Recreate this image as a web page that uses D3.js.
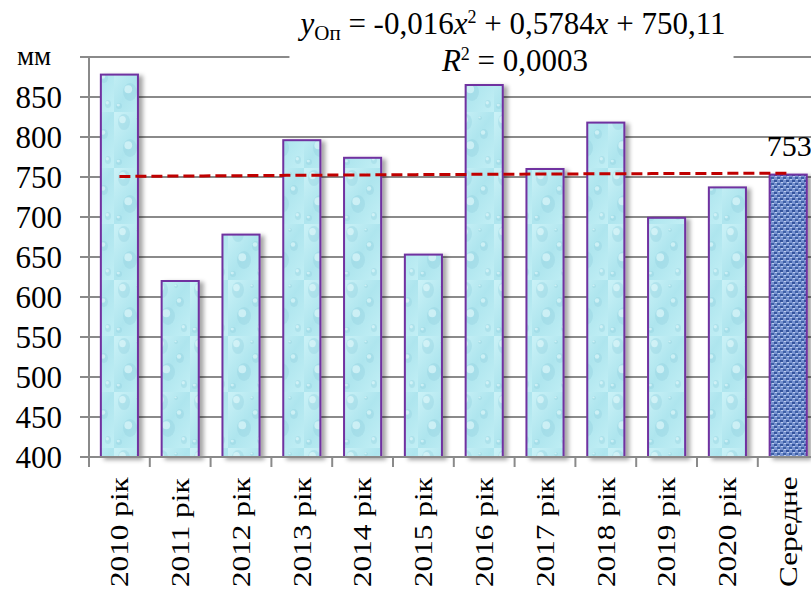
<!DOCTYPE html>
<html>
<head>
<meta charset="utf-8">
<script src="https://cdn.jsdelivr.net/npm/d3@7"></script>
<style>
  html, body { margin: 0; padding: 0; background: #fff; }
</style>
</head>
<body>
<script>
// Annual precipitation, mm, 2010–2020 and the mean over the period
const categories = ["2010 рік", "2011 рік", "2012 рік", "2013 рік", "2014 рік", "2015 рік",
                    "2016 рік", "2017 рік", "2018 рік", "2019 рік", "2020 рік", "Середне"];
const precipitation = [878, 620, 678, 796, 774, 653, 865, 760, 818, 699, 737, 753];
const yTicks = [400, 450, 500, 550, 600, 650, 700, 750, 800, 850, 900];
const yUnit = "мм";
// polynomial trend y = a·x² + b·x + c
const trendCoef = [-0.016, 0.5784, 750.11];
const trendR2 = "0,0003";

const FONT = "Liberation Serif";
const W = 811, H = 592;
const svg = d3.select("body").append("svg").attr("width", W).attr("height", H)
  .attr("font-family", FONT);
const defs = svg.append("defs");

// --- fills -------------------------------------------------------------
const waterGrad = defs.append("linearGradient").attr("id", "waterBase")
  .attr("x1", 0).attr("y1", 0).attr("x2", 1).attr("y2", 1);
waterGrad.append("stop").attr("offset", 0).attr("stop-color", "#cbf2f7");
waterGrad.append("stop").attr("offset", 0.5).attr("stop-color", "#aee5ee");
waterGrad.append("stop").attr("offset", 1).attr("stop-color", "#c2eff5");

const water = defs.append("pattern").attr("id", "water")
  .attr("patternUnits", "userSpaceOnUse").attr("width", 38).attr("height", 56);
water.append("rect").attr("width", 38).attr("height", 56).attr("fill", "url(#waterBase)");
const drops = [
  [10, 10, 6, 8], [28, 22, 4, 5], [16, 36, 7, 9], [32, 48, 3, 4], [5, 50, 3, 3], [24, 6, 2, 2]
];
drops.forEach(([cx, cy, rx, ry]) => {
  water.append("ellipse").attr("cx", cx).attr("cy", cy).attr("rx", rx).attr("ry", ry)
    .attr("fill", "#8fcfdc").attr("opacity", 0.35);
  water.append("ellipse").attr("cx", cx - rx * 0.25).attr("cy", cy - ry * 0.3)
    .attr("rx", rx * 0.55).attr("ry", ry * 0.45).attr("fill", "#e6fbfd").attr("opacity", 0.6);
});

const denim = defs.append("pattern").attr("id", "denim")
  .attr("patternUnits", "userSpaceOnUse").attr("width", 6).attr("height", 6);
denim.append("rect").attr("width", 6).attr("height", 6).attr("fill", "#7792d0");
denim.append("rect").attr("x", 0).attr("y", 0).attr("width", 3).attr("height", 2).attr("fill", "#34549e");
denim.append("rect").attr("x", 3).attr("y", 3).attr("width", 3).attr("height", 2).attr("fill", "#3d5ea6");
denim.append("rect").attr("x", 1).attr("y", 2).attr("width", 2).attr("height", 1).attr("fill", "#bccdee");
denim.append("rect").attr("x", 4).attr("y", 5).attr("width", 2).attr("height", 1).attr("fill", "#bccdee");

const shadow = defs.append("filter").attr("id", "shadow")
  .attr("x", "-20%").attr("y", "-5%").attr("width", "150%").attr("height", "115%");
shadow.append("feDropShadow").attr("dx", 4).attr("dy", 2).attr("stdDeviation", 2)
  .attr("flood-color", "#000").attr("flood-opacity", 0.35);

// --- scales ------------------------------------------------------------
const x0 = 89, step = 60.8;
const x = d3.scaleBand().domain(categories)
  .range([x0, x0 + step * categories.length])
  .paddingInner(0.39).paddingOuter(0.195);
const y = d3.scaleLinear().domain([400, 900]).range([457, 57]);

const gridColor = "#8a8a8a";

// gridlines
svg.append("g").selectAll("line").data(yTicks).join("line")
  .attr("x1", x0 - 9).attr("x2", W)
  .attr("y1", d => y(d)).attr("y2", d => y(d))
  .attr("stroke", gridColor).attr("stroke-width", 2);

// y axis
const yAxis = svg.append("g").attr("transform", `translate(${x0},0)`)
  .call(d3.axisLeft(y).tickValues(yTicks.filter(v => v < 900)).tickSize(0).tickPadding(27)
    .tickFormat(d3.format("d")));
yAxis.attr("font-family", FONT);
yAxis.select(".domain").remove();
yAxis.selectAll("text").attr("font-family", FONT).attr("font-size", 31)
  .attr("fill", "#000").attr("dy", "0.33em");
svg.append("line").attr("x1", x0).attr("x2", x0).attr("y1", y(900)).attr("y2", y(400))
  .attr("stroke", gridColor).attr("stroke-width", 2);
svg.append("text").attr("font-family", FONT).attr("x", 34).attr("y", y(900)).attr("dy", "0.3em")
  .attr("text-anchor", "middle").attr("font-size", 27).text(yUnit);

// bars
svg.append("g").selectAll("rect").data(precipitation).join("rect")
  .attr("x", (d, i) => x(categories[i]))
  .attr("width", x.bandwidth())
  .attr("y", d => y(d))
  .attr("height", d => y(400) - y(d))
  .attr("fill", (d, i) => i === categories.length - 1 ? "url(#denim)" : "url(#water)")
  .attr("stroke", "#7030a0").attr("stroke-width", 2)
  .attr("filter", "url(#shadow)");

// x axis line and ticks at category boundaries
svg.append("line").attr("x1", x0).attr("x2", W).attr("y1", y(400)).attr("y2", y(400))
  .attr("stroke", gridColor).attr("stroke-width", 2);
svg.append("g").selectAll("line").data(d3.range(categories.length + 1)).join("line")
  .attr("x1", i => x0 + i * x.step()).attr("x2", i => x0 + i * x.step())
  .attr("y1", y(400)).attr("y2", y(400) + 10)
  .attr("stroke", gridColor).attr("stroke-width", 2);

// category labels, rotated
svg.append("g").selectAll("text").data(categories).join("text")
  .attr("font-family", FONT)
  .attr("transform", d => `translate(${x(d) + x.bandwidth() / 2},587) rotate(-90) scale(1.25,1)`)
  .attr("dy", "0.35em").attr("font-size", 25).attr("text-anchor", "start")
  .text(d => d);

// trend curve
const trend = t => trendCoef[0] * t * t + trendCoef[1] * t + trendCoef[2];
const tPts = d3.range(1, categories.length + 0.001, 0.25);
const tx = d3.scaleLinear().domain([1, categories.length])
  .range([x(categories[0]) + x.bandwidth() / 2, x(categories[categories.length - 1]) + x.bandwidth() / 2]);
svg.append("path")
  .attr("d", d3.line().x(t => tx(t)).y(t => y(trend(t))).curve(d3.curveMonotoneX)(tPts))
  .attr("fill", "none").attr("stroke", "#c00000").attr("stroke-width", 3)
  .attr("stroke-dasharray", "11,5");

// mean value label
const last = categories.length - 1;
svg.append("text").attr("font-family", FONT).attr("x", x(categories[last]) + x.bandwidth() / 2 + 1)
  .attr("y", y(precipitation[last]) - 19).attr("text-anchor", "middle")
  .attr("font-size", 30).text(precipitation[last]);

// trend equation with white backing
const eq = svg.append("g");
const eqBg = eq.append("rect").attr("fill", "#fff");
const l1 = eq.append("text").attr("font-family", FONT).attr("x", 513).attr("y", 34)
  .attr("text-anchor", "middle").attr("font-size", 31);
const fmt = v => String(v).replace(".", ",");
l1.append("tspan").attr("font-style", "italic").text("y");
l1.append("tspan").attr("font-size", 21).attr("dy", 6).text("Оп");
l1.append("tspan").attr("dy", -6).text(` = ${fmt(trendCoef[0])}`);
l1.append("tspan").attr("font-style", "italic").text("x");
l1.append("tspan").attr("font-size", 18).attr("dy", -11).text("2");
l1.append("tspan").attr("dy", 11).text(` + ${fmt(trendCoef[1])}`);
l1.append("tspan").attr("font-style", "italic").text("x");
l1.append("tspan").text(` + ${fmt(trendCoef[2])}`);
const l2 = eq.append("text").attr("font-family", FONT).attr("x", 515).attr("y", 71)
  .attr("text-anchor", "middle").attr("font-size", 31);
l2.append("tspan").attr("font-style", "italic").text("R");
l2.append("tspan").attr("font-size", 18).attr("dy", -11).text("2");
l2.append("tspan").attr("dy", 11).text(` = ${trendR2}`);
const bb = eq.node().getBBox();
eqBg.attr("x", bb.x - 8).attr("y", bb.y).attr("width", bb.width + 16).attr("height", bb.height);
</script>
</body>
</html>
